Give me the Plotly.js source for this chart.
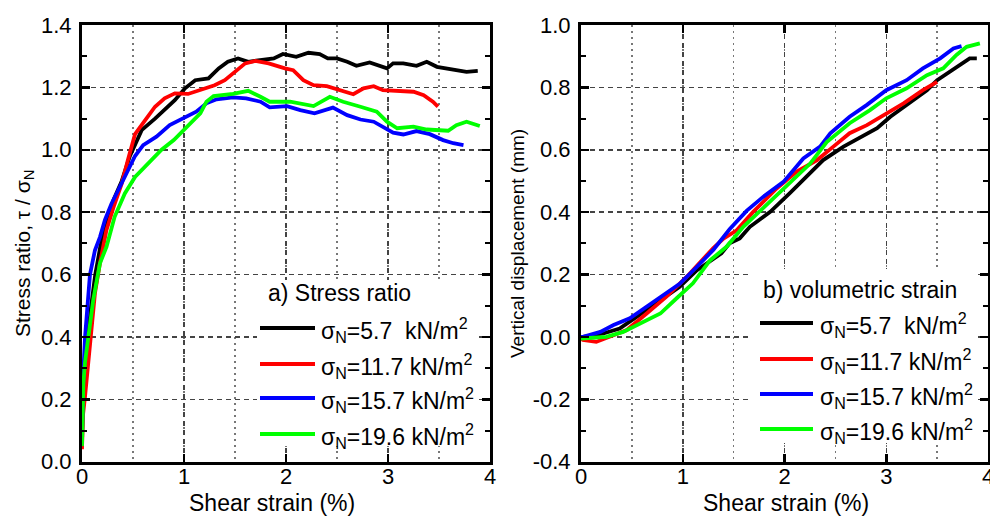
<!DOCTYPE html>
<html>
<head>
<meta charset="utf-8">
<script src="https://cdn.plot.ly/plotly-3.0.1.min.js"></script>
<style>html,body{margin:0;padding:0;background:#fff;}#chart{width:990px;height:517px;}</style>
</head>
<body>
<div id="chart"></div>
<script>
// ---------- data ----------
const seriesLabels = ['σ<sub>N</sub>=5.7\u00a0\u00a0kN/m<sup>2</sup>', 'σ<sub>N</sub>=11.7 kN/m<sup>2</sup>', 'σ<sub>N</sub>=15.7 kN/m<sup>2</sup>', 'σ<sub>N</sub>=19.6 kN/m<sup>2</sup>'];
const seriesColors = ['#000000', '#ff0000', '#0000ff', '#00ff00'];

// a) stress ratio vs shear strain
const srBlackX = [0, 0.005, 0.02, 0.05, 0.09, 0.13, 0.18, 0.24, 0.31, 0.39, 0.47, 0.585, 0.716, 0.81, 0.91, 1.01, 1.11, 1.24, 1.34, 1.43, 1.53, 1.63, 1.78, 1.88, 1.97, 2.10, 2.22, 2.33, 2.41, 2.50, 2.60, 2.69, 2.82, 2.92, 2.99, 3.05, 3.15, 3.28, 3.38, 3.48, 3.61, 3.77, 3.88];
const srBlackY = [0.05, 0.15, 0.25, 0.38, 0.50, 0.60, 0.69, 0.77, 0.84, 0.90, 0.98, 1.063, 1.10, 1.127, 1.159, 1.197, 1.223, 1.229, 1.261, 1.282, 1.293, 1.282, 1.287, 1.293, 1.307, 1.298, 1.311, 1.307, 1.293, 1.293, 1.282, 1.269, 1.28, 1.269, 1.261, 1.277, 1.277, 1.269, 1.282, 1.266, 1.259, 1.25, 1.253];
const srRedX = [0, 0.01, 0.03, 0.078, 0.127, 0.176, 0.24, 0.31, 0.39, 0.45, 0.52, 0.62, 0.716, 0.81, 0.91, 1.04, 1.14, 1.30, 1.40, 1.50, 1.60, 1.70, 1.83, 1.99, 2.07, 2.17, 2.27, 2.40, 2.53, 2.66, 2.76, 2.86, 2.95, 3.12, 3.25, 3.35, 3.44, 3.49];
const srRedY = [0.04, 0.15, 0.21, 0.38, 0.54, 0.636, 0.743, 0.817, 0.892, 0.967, 1.05, 1.095, 1.138, 1.165, 1.181, 1.179, 1.191, 1.207, 1.223, 1.25, 1.277, 1.285, 1.277, 1.261, 1.255, 1.223, 1.207, 1.204, 1.191, 1.178, 1.197, 1.204, 1.191, 1.189, 1.186, 1.175, 1.154, 1.138];
const srBlueX = [0, 0.005, 0.015, 0.03, 0.05, 0.078, 0.127, 0.176, 0.225, 0.29, 0.356, 0.454, 0.52, 0.60, 0.73, 0.86, 0.99, 1.12, 1.22, 1.32, 1.48, 1.61, 1.75, 1.84, 2.01, 2.14, 2.28, 2.46, 2.60, 2.73, 2.86, 2.95, 3.05, 3.15, 3.28, 3.41, 3.54, 3.64, 3.74];
const srBlueY = [0.08, 0.20, 0.30, 0.40, 0.48, 0.60, 0.678, 0.72, 0.775, 0.828, 0.871, 0.935, 0.98, 1.015, 1.042, 1.079, 1.10, 1.122, 1.149, 1.162, 1.168, 1.165, 1.154, 1.136, 1.14, 1.127, 1.117, 1.135, 1.111, 1.097, 1.09, 1.074, 1.055, 1.049, 1.06, 1.05, 1.031, 1.021, 1.015];
const srGreenX = [0, 0.005, 0.013, 0.03, 0.062, 0.11, 0.176, 0.24, 0.32, 0.42, 0.52, 0.68, 0.78, 0.90, 1.03, 1.16, 1.22, 1.29, 1.48, 1.63, 1.75, 1.84, 2.04, 2.27, 2.43, 2.56, 2.73, 2.89, 2.99, 3.09, 3.25, 3.38, 3.59, 3.67, 3.77, 3.90];
const srGreenY = [0.05, 0.15, 0.25, 0.32, 0.40, 0.518, 0.636, 0.689, 0.785, 0.86, 0.913, 0.967, 1.0, 1.031, 1.074, 1.117, 1.154, 1.172, 1.179, 1.189, 1.17, 1.154, 1.154, 1.14, 1.17, 1.154, 1.138, 1.122, 1.09, 1.069, 1.074, 1.065, 1.061, 1.079, 1.09, 1.076];

// b) vertical displacement vs shear strain
const vdBlackX = [0, 0.02, 0.22, 0.38, 0.55, 0.78, 0.97, 1.14, 1.25, 1.38, 1.46, 1.56, 1.66, 1.86, 2.05, 2.22, 2.38, 2.58, 2.77, 2.91, 3.04, 3.23, 3.40, 3.50, 3.63, 3.76, 3.82, 3.89];
const vdBlackY = [0, 0, 0.011, 0.027, 0.065, 0.118, 0.161, 0.214, 0.24, 0.268, 0.30, 0.316, 0.353, 0.401, 0.46, 0.513, 0.567, 0.61, 0.642, 0.669, 0.706, 0.749, 0.791, 0.823, 0.85, 0.877, 0.893, 0.893];
const vdRedX = [0, 0.02, 0.15, 0.285, 0.45, 0.645, 0.84, 1.04, 1.20, 1.30, 1.40, 1.53, 1.69, 1.86, 1.92, 2.12, 2.32, 2.48, 2.64, 2.81, 2.97, 3.17, 3.36, 3.50];
const vdRedY = [-0.005, -0.01, -0.016, 0, 0.022, 0.075, 0.129, 0.193, 0.252, 0.285, 0.315, 0.342, 0.40, 0.455, 0.475, 0.53, 0.567, 0.61, 0.653, 0.679, 0.711, 0.749, 0.791, 0.818];
const vdBlueX = [0, 0.02, 0.19, 0.32, 0.48, 0.645, 0.81, 0.97, 1.14, 1.30, 1.46, 1.63, 1.79, 1.99, 2.185, 2.35, 2.45, 2.64, 2.81, 3.00, 3.20, 3.36, 3.53, 3.66, 3.74];
const vdBlueY = [0, 0, 0.016, 0.038, 0.06, 0.096, 0.134, 0.17, 0.225, 0.279, 0.345, 0.405, 0.449, 0.497, 0.572, 0.61, 0.653, 0.706, 0.744, 0.791, 0.823, 0.861, 0.893, 0.925, 0.932];
const vdGreenX = [0, 0.25, 0.415, 0.61, 0.78, 0.94, 1.10, 1.27, 1.43, 1.595, 1.75, 1.86, 2.05, 2.25, 2.415, 2.64, 2.84, 3.00, 3.20, 3.40, 3.56, 3.69, 3.79, 3.92];
const vdGreenY = [-0.005, 0, 0.016, 0.048, 0.075, 0.124, 0.172, 0.246, 0.289, 0.353, 0.40, 0.435, 0.495, 0.555, 0.625, 0.685, 0.727, 0.765, 0.797, 0.839, 0.861, 0.904, 0.93, 0.941];

const xTickVals = [0, 1, 2, 3, 4];
const yTickValsA = [0, 0.2, 0.4, 0.6, 0.8, 1.0, 1.2, 1.4];
const yTickValsB = [-0.4, -0.2, 0, 0.2, 0.4, 0.6, 0.8, 1.0];

// ---------- figure ----------
const W = 990, H = 517;
const FONT = 'Arial, "Liberation Sans", sans-serif';
const stressX = [srBlackX, srRedX, srBlueX, srGreenX];
const stressY = [srBlackY, srRedY, srBlueY, srGreenY];
const dispX = [vdBlackX, vdRedX, vdBlueX, vdGreenX];
const dispY = [vdBlackY, vdRedY, vdBlueY, vdGreenY];

const traces = [];
for (let i = 0; i < 4; i++) {
  traces.push({x: stressX[i], y: stressY[i], type: 'scatter', mode: 'lines', name: seriesLabels[i],
    line: {color: seriesColors[i], width: 3.8}, xaxis: 'x', yaxis: 'y', hoverinfo: 'skip'});
}
for (let i = 0; i < 4; i++) {
  traces.push({x: dispX[i], y: dispY[i], type: 'scatter', mode: 'lines', name: seriesLabels[i],
    line: {color: seriesColors[i], width: 3.8}, xaxis: 'x2', yaxis: 'y2', hoverinfo: 'skip'});
}

const yDom = [1 - 461.7 / H, 1 - 25 / H];
function xAx(dom, anchor) {
  return {domain: dom, anchor: anchor, range: [0, 4], tickvals: xTickVals, ticktext: xTickVals.map(String),
    ticks: 'inside', ticklen: 8, tickwidth: 2.5, tickcolor: '#000', showline: true, linewidth: 3, linecolor: '#000',
    mirror: 'ticks', showgrid: true, gridcolor: '#444', gridwidth: 1.5, griddash: '5px,4px', zeroline: false,
    tickfont: {size: 22, family: FONT, color: '#000'}, ticklabelstandoff: -7, ticklabeloverflow: 'allow',
    minor: {dtick: 0.5, tick0: 0, showgrid: true, gridcolor: '#777', gridwidth: 1.5, griddash: '2px,4px', ticks: ''},
    fixedrange: true};
}
function yAx(range, vals, anchor) {
  return {domain: yDom, anchor: anchor, range: range, tickvals: vals, ticktext: vals.map(v => v.toFixed(1)),
    ticks: 'inside', ticklen: 8, tickwidth: 2.5, tickcolor: '#000', showline: true, linewidth: 3, linecolor: '#000',
    mirror: 'ticks', showgrid: true, gridcolor: '#444', gridwidth: 1.5, griddash: '5px,4px', zeroline: false,
    tickfont: {size: 22, family: FONT, color: '#000'}, ticklabelstandoff: 3, ticklabeloverflow: 'allow',
    minor: {dtick: 0.1, tick0: 0, showgrid: false, ticks: 'inside', ticklen: 5, tickwidth: 2, tickcolor: '#000'},
    fixedrange: true};
}

const annotations = [];
const shapes = [];
function ann(text, px, py, opts) {
  annotations.push(Object.assign({text: text, x: px / W, y: 1 - py / H, xref: 'paper', yref: 'paper',
    showarrow: false, xanchor: 'center', yanchor: 'middle', font: {family: FONT, size: 22, color: '#000'}}, opts || {}));
}
// axis titles
ann('Shear strain (%)', 272, 503, {font: {family: FONT, size: 23, color: '#000'}});
ann('Shear strain (%)', 786, 503, {font: {family: FONT, size: 23, color: '#000'}});
ann('Stress ratio, τ / σ<sub>N</sub>', 24, 254, {textangle: -90, font: {family: FONT, size: 21, color: '#000'}});
ann('Vertical displacement (mm)', 517, 244, {textangle: -90, font: {family: FONT, size: 19, color: '#000'}});
// legend boxes (white fill hiding the grid behind the key)
const boxA = {x0: 257, x1: 479, y0: 280, y1: 446};
const boxB = {x0: 752, x1: 978, y0: 269, y1: 443};
[boxA, boxB].forEach(function (b) {
  shapes.push({type: 'rect', xref: 'paper', yref: 'paper', layer: 'above', x0: b.x0 / W, x1: b.x1 / W,
    y0: 1 - b.y1 / H, y1: 1 - b.y0 / H, fillcolor: '#fff', line: {width: 0}});
});
// panel labels
ann('a) Stress ratio', 339, 293, {font: {family: FONT, size: 23, color: '#000'}});
ann('b) volumetric strain', 860, 290, {font: {family: FONT, size: 23, color: '#000'}});
// legends
const legA = {x0: 260, x1: 315, tx: 319, ys: [328, 364, 398, 434]};
const legB = {x0: 760, x1: 813, tx: 818, ys: [323, 359, 394, 429]};
[legA, legB].forEach(function (L) {
  for (let i = 0; i < 4; i++) {
    shapes.push({type: 'line', xref: 'paper', yref: 'paper', layer: 'above', x0: L.x0 / W, x1: L.x1 / W,
      y0: 1 - L.ys[i] / H, y1: 1 - L.ys[i] / H, line: {color: seriesColors[i], width: 4}});
    ann(seriesLabels[i], L.tx, L.ys[i] + 2, {xanchor: 'left', font: {family: FONT, size: 23, color: '#000'}});
  }
});

const layout = {
  width: W, height: H, margin: {l: 0, r: 0, t: 0, b: 0}, paper_bgcolor: '#fff', plot_bgcolor: '#fff',
  showlegend: false, font: {family: FONT, size: 21, color: '#000'},
  xaxis: xAx([82 / W, 490 / W], 'y'),
  yaxis: yAx([0, 1.4], yTickValsA, 'x'),
  xaxis2: xAx([581 / W, 988 / W], 'y2'),
  yaxis2: yAx([-0.4, 1.0], yTickValsB, 'x2'),
  annotations: annotations, shapes: shapes
};
Plotly.newPlot('chart', traces, layout, {staticPlot: true, displayModeBar: false});
</script>
</body>
</html>
